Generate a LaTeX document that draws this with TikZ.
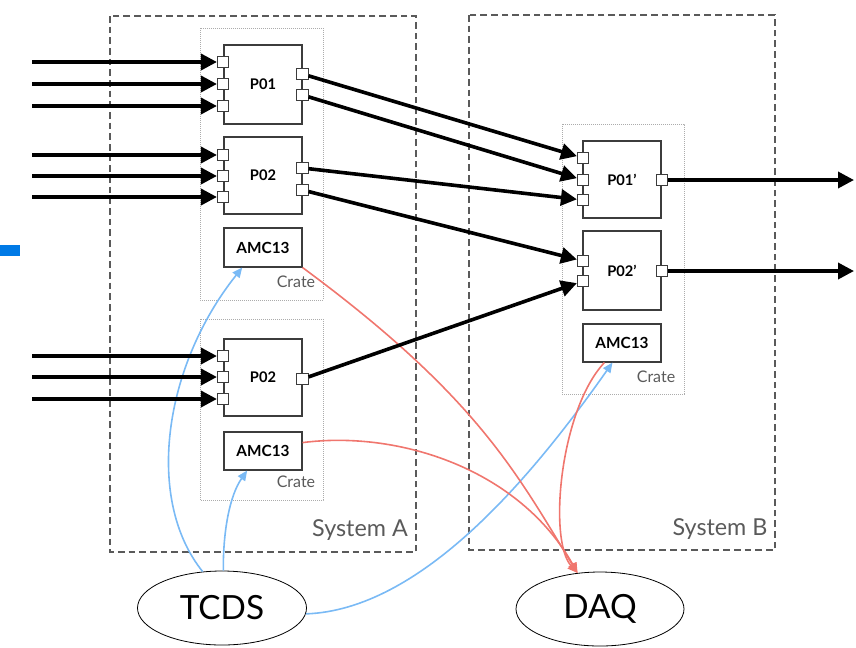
\documentclass[tikz,border=0pt]{standalone}
\usepackage{fontspec}
\setmainfont{Lato}
\usetikzlibrary{arrows.meta,shapes.geometric}
\definecolor{tblue}{RGB}{122,186,245}
\definecolor{tred}{RGB}{240,118,110}
\definecolor{markblue}{RGB}{0,122,230}
\definecolor{framegray}{RGB}{90,90,90}
\definecolor{boxgray}{RGB}{60,60,60}
\begin{document}
\begin{tikzpicture}[x=0.75pt,y=-0.75pt,
  sysbox/.style={draw=framegray, line width=0.8pt, dash pattern=on 5pt off 3pt},
  cratebox/.style={draw=gray!65, line width=0.5pt, dash pattern=on 0.6pt off 0.9pt},
  pbox/.style={draw=boxgray, line width=0.8pt, fill=white, minimum width=58.5pt, inner sep=0pt, font=\bfseries\fontsize{11}{13}\selectfont},
  abox/.style={pbox, font=\bfseries\fontsize{11.5}{13}\selectfont},
  port/.style={draw=boxgray, line width=0.6pt, fill=white, minimum size=8.5pt, inner sep=0pt},
  bus/.style={line width=2.7pt, -{Triangle[length=12pt,width=12pt]}},
  tline/.style={draw=tblue, line width=1.2pt, -{Triangle[length=7.5pt,width=6.5pt]}},
  rline/.style={draw=tred, line width=1.2pt, -{Triangle[length=7.5pt,width=6.5pt]}},
  ell/.style={draw=black, line width=0.6pt, ellipse, inner sep=0pt, font=\fontsize{25}{28}\selectfont},
  lbl/.style={text=framegray, inner sep=0pt},
]
\useasboundingbox (0,0) rectangle (856,647);
\fill[markblue] (0,245) rectangle (20,256);

% systems and crates
\draw[sysbox] (110,16) rectangle (416,552);
\draw[sysbox] (469,15) rectangle (775,550);
\draw[cratebox] (200,28) rectangle (323,300);
\draw[cratebox] (200,319) rectangle (323,500);
\draw[cratebox] (562,124) rectangle (684,394);

\node[lbl, font=\fontsize{12}{14}\selectfont] (cr1) at (296,282) {Crate};
\node[lbl, font=\fontsize{12}{14}\selectfont] (cr2) at (296,482) {Crate};
\node[lbl, font=\fontsize{12}{14}\selectfont] (cr3) at (656,377) {Crate};
\node[lbl, font=\fontsize{17.5}{20}\selectfont] (sa) at (360,530) {System A};
\node[lbl, font=\fontsize{17.5}{20}\selectfont] (sb) at (720,529) {System B};

% ellipses
\node[ell, minimum width=126.75pt, minimum height=55.5pt] (tcds) at (222,608) {TCDS};
\node[ell, minimum width=126pt, minimum height=55.5pt] (daq) at (600,609) {DAQ};

% boards
\node[pbox, minimum height=59.25pt] (p01) at (263,84.5) {P01};
\node[pbox, minimum height=57.75pt] (p02) at (263,175.5) {P02};
\node[abox, minimum height=29.25pt] (amca) at (263,247.5) {AMC13};
\node[pbox, minimum height=57.75pt] (p02b) at (263,377.5) {P02};
\node[abox, minimum height=28.5pt] (amcb) at (263,451) {AMC13};
\node[pbox, minimum height=57.75pt] (p01p) at (622,179.5) {P01’};
\node[pbox, minimum height=59.25pt] (p02p) at (622,270.5) {P02’};
\node[abox, minimum height=28.5pt] (amcc) at (622,343) {AMC13};

% control and data curves
\draw[tline] (tcds.118) .. controls (145,500) and (163,367) .. (amca.224);
\draw[tline] (tcds.88) .. controls (223,530) and (230,495) .. (amcb.231);
\draw[tline] (tcds.-4) .. controls (420,610) and (530,480) .. (amcc.244);
\draw[rline] (amca.south east) .. controls (478,397) and (517,474) .. (daq.122);
\draw[rline] (amcb.12) .. controls (400,430) and (520,470) .. (daq.122);
\draw[rline] (amcc.228) .. controls (560,410) and (548,540) .. (daq.122);

% ports
\node[port] (p01i1) at (223,62) {};
\node[port] (p01i2) at (223,84) {};
\node[port] (p01i3) at (223,106) {};
\node[port] (p01o1) at (302.5,74) {};
\node[port] (p01o2) at (302.5,95) {};
\node[port] (p02i1) at (223,155) {};
\node[port] (p02i2) at (223,176) {};
\node[port] (p02i3) at (223,197) {};
\node[port] (p02o1) at (302.5,168) {};
\node[port] (p02o2) at (302.5,190) {};
\node[port] (p02bi1) at (223,356) {};
\node[port] (p02bi2) at (223,377) {};
\node[port] (p02bi3) at (223,399) {};
\node[port] (p02bo1) at (302.5,379) {};
\node[port] (p01pi1) at (583,158) {};
\node[port] (p01pi2) at (583,180) {};
\node[port] (p01pi3) at (583,200) {};
\node[port] (p01po1) at (662,180) {};
\node[port] (p02pi1) at (583,261) {};
\node[port] (p02pi2) at (583,281) {};
\node[port] (p02po1) at (662,271) {};

% free ends
\coordinate (s1) at (32,62);
\coordinate (s2) at (32,84);
\coordinate (s3) at (32,106);
\coordinate (s4) at (32,155);
\coordinate (s5) at (32,176);
\coordinate (s6) at (32,197);
\coordinate (s7) at (32,356);
\coordinate (s8) at (32,377);
\coordinate (s9) at (32,399);
\coordinate (e1) at (854,180);
\coordinate (e2) at (854,271);

% buses
\draw[bus] (s1) -- (p01i1);
\draw[bus] (s2) -- (p01i2);
\draw[bus] (s3) -- (p01i3);
\draw[bus] (s4) -- (p02i1);
\draw[bus] (s5) -- (p02i2);
\draw[bus] (s6) -- (p02i3);
\draw[bus] (s7) -- (p02bi1);
\draw[bus] (s8) -- (p02bi2);
\draw[bus] (s9) -- (p02bi3);
\draw[bus] (p01o1) -- (p01pi1);
\draw[bus] (p01o2) -- (p01pi2);
\draw[bus] (p02o1) -- (p01pi3);
\draw[bus] (p02o2) -- (p02pi1);
\draw[bus] (p02bo1) -- (p02pi2);
\draw[bus] (p01po1) -- (e1);
\draw[bus] (p02po1) -- (e2);
\end{tikzpicture}
\end{document}
